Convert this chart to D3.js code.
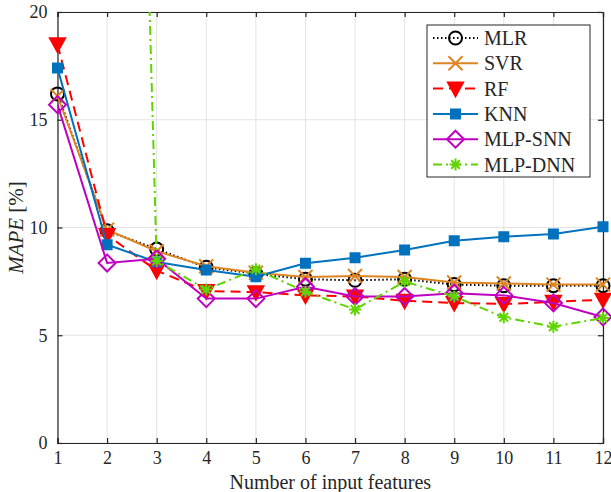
<!DOCTYPE html>
<html>
<head>
<meta charset="utf-8">
<script src="https://cdn.jsdelivr.net/npm/d3@7"></script>
<style>
  body { margin: 0; background: #fff; }
  svg { display: block; }
  text { font-family: "Liberation Serif", "Times New Roman", serif; fill: #262626; }
</style>
</head>
<body>
<svg width="611" height="492"></svg>
<script>
// data
var features = [1, 2, 3, 4, 5, 6, 7, 8, 9, 10, 11, 12];
var mlr    = [16.2, 9.85, 9.0, 8.15, 7.85, 7.6, 7.55, 7.6, 7.35, 7.3, 7.3, 7.3];
var svr    = [16.1, 9.9, 8.9, 8.2, 7.9, 7.7, 7.75, 7.7, 7.45, 7.4, 7.35, 7.35];
var rf     = [18.5, 9.65, 8.0, 7.05, 7.0, 6.85, 6.8, 6.6, 6.5, 6.45, 6.55, 6.65];
var knn    = [17.4, 9.2, 8.4, 8.03, 7.72, 8.34, 8.6, 8.96, 9.39, 9.57, 9.7, 10.03];
var mlpSnn = [15.7, 8.35, 8.55, 6.7, 6.7, 7.25, 6.8, 6.8, 6.95, 6.85, 6.5, 5.85];
var mlpDnn = [110, 90, 8.45, 7.12, 8.06, 7.02, 6.2, 7.49, 6.8, 5.83, 5.4, 5.8];
var yTicks = [0, 5, 10, 15, 20];

var series = [
  {name: "MLR",     values: mlr,    color: "#000000", dash: "1.5,2.5",   marker: "circle"},
  {name: "SVR",     values: svr,    color: "#DE8523", dash: null,        marker: "x"},
  {name: "RF",      values: rf,     color: "#FF0000", dash: "10,6",      marker: "triangle"},
  {name: "KNN",     values: knn,    color: "#0072BD", dash: null,        marker: "square"},
  {name: "MLP-SNN", values: mlpSnn, color: "#BF00BF", dash: null,        marker: "diamond"},
  {name: "MLP-DNN", values: mlpDnn, color: "#5FD400", dash: "9,4,2,4",   marker: "star"}
];

var svg = d3.select("svg");
var pLeft = 57.5, pRight = 603, pTop = 12, pBottom = 443;
var axisColor = "#262626", gridColor = "#e3e3e3";

var x = d3.scaleLinear().domain([1, 12]).range([pLeft, pRight]);
var y = d3.scaleLinear().domain([0, 20]).range([pBottom, pTop]);

// marker shapes
function markerPath(type) {
  switch (type) {
    case "circle": return d3.symbol().type(d3.symbolCircle).size(Math.PI * 6.5 * 6.5)();
    case "square": return "M-4.5,-4.5H4.5V4.5H-4.5Z";
    case "triangle": return "M-7.5,-6L7.5,-6L0,7.5Z";
    case "diamond": return "M0,-8.5L8.5,0L0,8.5L-8.5,0Z";
    case "x": return "M-7,-7L7,7M-7,7L7,-7";
    case "star": return "M-6,0H6M0,-6V6M-4.3,-4.3L4.3,4.3M-4.3,4.3L4.3,-4.3";
  }
}
function markerFill(s) {
  return (s.marker === "triangle" || s.marker === "square") ? s.color : "none";
}

svg.append("defs").append("clipPath").attr("id", "plotclip")
  .append("rect").attr("x", pLeft).attr("y", pTop)
  .attr("width", pRight - pLeft).attr("height", pBottom - pTop);

// grid
svg.append("g").selectAll("line").data(features).enter().append("line")
  .attr("x1", function(d) { return x(d); }).attr("x2", function(d) { return x(d); })
  .attr("y1", pTop).attr("y2", pBottom)
  .style("stroke", gridColor).style("stroke-width", 1);
svg.append("g").selectAll("line").data(yTicks).enter().append("line")
  .attr("x1", pLeft).attr("x2", pRight)
  .attr("y1", function(d) { return y(d); }).attr("y2", function(d) { return y(d); })
  .style("stroke", gridColor).style("stroke-width", 1);

// axes box with ticks on every side
var xAxis = svg.append("g").attr("transform", "translate(0," + pBottom + ")")
  .call(d3.axisBottom(x).tickValues(features).tickSize(-5).tickPadding(8).tickFormat(d3.format("d")));
var xTop = svg.append("g").attr("transform", "translate(0," + pTop + ")")
  .call(d3.axisTop(x).tickValues(features).tickSize(-5).tickFormat(""));
var yAxis = svg.append("g").attr("transform", "translate(" + pLeft + ",0)")
  .call(d3.axisLeft(y).tickValues(yTicks).tickSize(-5).tickPadding(10));
var yRight = svg.append("g").attr("transform", "translate(" + pRight + ",0)")
  .call(d3.axisRight(y).tickValues(yTicks).tickSize(-5).tickFormat(""));

[xAxis, xTop, yAxis, yRight].forEach(function(g) {
  g.select(".domain").style("stroke", axisColor).style("stroke-width", 1.2);
  g.selectAll(".tick line").style("stroke", axisColor).style("stroke-width", 1.2);
  g.selectAll("text").style("font-family", "Liberation Serif").style("font-size", "18px").style("fill", axisColor);
});

// lines
var line = d3.line()
  .x(function(d, i) { return x(features[i]); })
  .y(function(d) { return y(d); });

var plot = svg.append("g");
series.forEach(function(s) {
  plot.append("path")
    .datum(s.values)
    .attr("d", line)
    .attr("clip-path", "url(#plotclip)")
    .style("fill", "none")
    .style("stroke", s.color)
    .style("stroke-width", 2)
    .style("stroke-dasharray", s.dash);

  var pts = s.values.map(function(v, i) { return {v: v, i: i}; })
    .filter(function(d) { return d.v <= 20; });

  plot.append("g").selectAll("path")
    .data(pts)
    .enter().append("path")
    .attr("transform", function(d) { return "translate(" + x(features[d.i]) + "," + y(d.v) + ")"; })
    .attr("d", markerPath(s.marker))
    .style("fill", markerFill(s))
    .style("stroke", s.color)
    .style("stroke-width", 2);
});

// labels
svg.append("text")
  .attr("x", (pLeft + pRight) / 2)
  .attr("y", 489)
  .attr("text-anchor", "middle")
  .style("font-size", "20px")
  .text("Number of input features");

var yl = svg.append("text")
  .attr("transform", "translate(23," + (pTop + pBottom) / 2 + ") rotate(-90)")
  .attr("text-anchor", "middle")
  .style("font-size", "21px");
yl.append("tspan").style("font-style", "italic").text("MAPE");
yl.append("tspan").text(" [%]");

// legend
var lg = svg.append("g");
lg.append("rect")
  .attr("x", 427).attr("y", 25).attr("width", 163).attr("height", 152)
  .style("fill", "white").style("stroke", axisColor).style("stroke-width", 1);

series.forEach(function(s, i) {
  var ly = 38 + i * 25.3;
  lg.append("line")
    .attr("x1", 433).attr("x2", 478).attr("y1", ly).attr("y2", ly)
    .style("stroke", s.color).style("stroke-width", 2)
    .style("stroke-dasharray", s.dash);
  lg.append("path")
    .attr("transform", "translate(455.5," + ly + ")")
    .attr("d", markerPath(s.marker))
    .style("fill", markerFill(s))
    .style("stroke", s.color).style("stroke-width", 2);
  lg.append("text")
    .attr("x", 484).attr("y", ly)
    .attr("dy", "0.35em")
    .style("font-size", "20px")
    .text(s.name);
});
</script>
</body>
</html>
